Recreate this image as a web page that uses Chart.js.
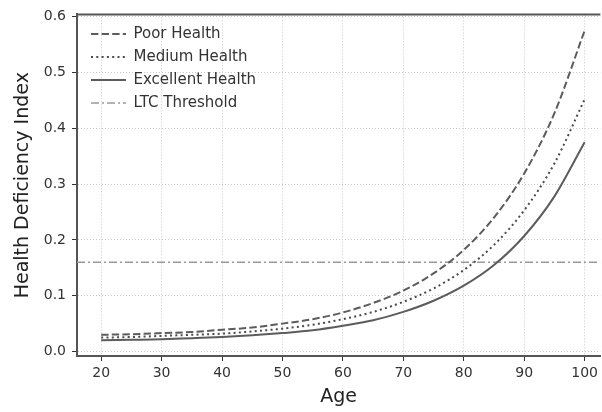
<!DOCTYPE html>
<html>
<head>
<meta charset="utf-8">
<script src="https://cdn.jsdelivr.net/npm/chart.js@4.4.0/dist/chart.umd.min.js"></script>
<style>
  html, body { margin: 0; padding: 0; background: #fff; overflow: hidden; }
</style>
</head>
<body>
<canvas id="chart" width="602" height="412"></canvas>
<script>
// Values
const ages = [20, 25, 30, 35, 40, 45, 50, 55, 60, 65, 70, 75, 80, 85, 90, 95, 100];
const poorHealth = [0.030, 0.031, 0.033, 0.035, 0.039, 0.043, 0.050, 0.058, 0.070, 0.087, 0.109, 0.140, 0.182, 0.240, 0.319, 0.427, 0.575];
const mediumHealth = [0.025, 0.026, 0.028, 0.030, 0.032, 0.036, 0.041, 0.048, 0.058, 0.071, 0.089, 0.113, 0.146, 0.191, 0.253, 0.337, 0.452];
const excellentHealth = [0.020, 0.021, 0.022, 0.024, 0.026, 0.029, 0.033, 0.038, 0.046, 0.056, 0.071, 0.091, 0.118, 0.155, 0.207, 0.278, 0.375];
const ltcThreshold = 0.16;

// Axes
const xTicks = [20, 30, 40, 50, 60, 70, 80, 90, 100];
const yTicks = [0, 0.1, 0.2, 0.3, 0.4, 0.5, 0.6];
const xRange = [16, 102.6];
const yRange = [-0.008, 0.604];

const toPoints = values => ages.map((age, i) => ({ x: age, y: values[i] }));

Chart.defaults.font.family = 'DejaVu Sans';
Chart.defaults.color = '#333';

// matplotlib style top spine
const topSpine = {
  id: 'topSpine',
  afterDraw(chart) {
    const { ctx, chartArea } = chart;
    ctx.save();
    ctx.strokeStyle = '#555';
    ctx.lineWidth = 2;
    ctx.beginPath();
    ctx.moveTo(chartArea.left, chartArea.top);
    ctx.lineTo(chartArea.right, chartArea.top);
    ctx.stroke();
    ctx.restore();
  }
};

// nudge the in-plot legend to the upper left like matplotlib's loc="upper left"
const legendOffset = {
  id: 'legendOffset',
  afterLayout(chart) {
    const legend = chart.legend;
    if (!legend) return;
    legend.left = chart.chartArea.left + 6;
    legend.top = chart.chartArea.top + 4;
  }
};

const gridOpts = {
  color: '#c8c8c8',
  lineWidth: 1,
  tickColor: '#333',
  tickLength: 5,
  tickWidth: 1,
  tickBorderDash: []
};
const borderOpts = { display: true, color: '#555', width: 2, dash: [1, 2] };

new Chart(document.getElementById('chart'), {
  type: 'line',
  data: {
    datasets: [
      {
        label: 'Poor Health',
        data: toPoints(poorHealth),
        borderColor: '#5c5c5c',
        borderWidth: 2,
        borderDash: [7.4, 3.2]
      },
      {
        label: 'Medium Health',
        data: toPoints(mediumHealth),
        borderColor: '#4a4a4a',
        borderWidth: 2,
        borderDash: [2, 3.3]
      },
      {
        label: 'Excellent Health',
        data: toPoints(excellentHealth),
        borderColor: '#5c5c5c',
        borderWidth: 2
      },
      {
        label: 'LTC Threshold',
        data: [{ x: xRange[0], y: ltcThreshold }, { x: xRange[1], y: ltcThreshold }],
        borderColor: '#999',
        borderWidth: 1.5,
        borderDash: [8, 3, 2, 3]
      }
    ]
  },
  options: {
    responsive: false,
    animation: false,
    layout: { padding: { top: 12, left: 0, right: 0, bottom: 0 } },
    elements: { point: { radius: 0 }, line: { fill: false, cubicInterpolationMode: 'monotone' } },
    plugins: {
      tooltip: { enabled: false },
      legend: {
        position: 'chartArea',
        align: 'start',
        labels: {
          usePointStyle: true,
          pointStyle: 'line',
          pointStyleWidth: 35,
          padding: 8,
          color: '#333',
          font: { size: 15 },
          // keep each dataset's dash pattern on its legend sample
          generateLabels: chart => Chart.defaults.plugins.legend.labels.generateLabels(chart).map(item => {
            const ds = chart.data.datasets[item.datasetIndex];
            return { ...item, lineDash: ds.borderDash || [], strokeStyle: ds.borderColor, lineWidth: ds.borderWidth };
          })
        }
      }
    },
    scales: {
      x: {
        type: 'linear',
        min: xRange[0],
        max: xRange[1],
        afterBuildTicks: scale => { scale.ticks = xTicks.map(v => ({ value: v })); },
        afterFit: scale => { scale.height = 56; },
        ticks: { font: { size: 14 }, color: '#333', padding: 4, maxRotation: 0, callback: v => v },
        grid: gridOpts,
        border: borderOpts,
        title: { display: true, text: 'Age', color: '#222', font: { size: 19 }, padding: { top: 0, bottom: 4 } }
      },
      y: {
        min: yRange[0],
        max: yRange[1],
        afterBuildTicks: scale => { scale.ticks = yTicks.map(v => ({ value: v })); },
        afterFit: scale => { scale.width = 77; },
        ticks: { font: { size: 14 }, color: '#333', padding: 6, callback: v => v.toFixed(1) },
        grid: gridOpts,
        border: borderOpts,
        title: { display: true, text: 'Health Deficiency Index', color: '#222', font: { size: 19 }, padding: { top: 12, bottom: 0 } }
      }
    }
  },
  plugins: [topSpine, legendOffset]
});
</script>
</body>
</html>
